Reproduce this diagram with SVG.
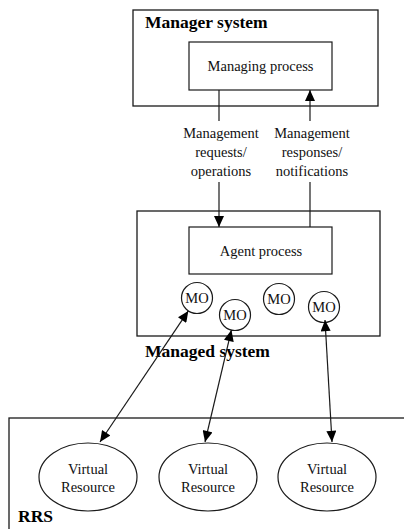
<svg xmlns="http://www.w3.org/2000/svg" width="404" height="529" viewBox="0 0 404 529">
  <style>
    .box { fill: none; stroke: #1a1a1a; stroke-width: 1.3; }
    .shape { fill: #fff; stroke: #1a1a1a; stroke-width: 1.2; }
    .t { font-family: "Liberation Serif", "Times New Roman", serif; font-size: 14.5px; fill: #111; }
    .c { text-anchor: middle; }
    .h { font-family: "Liberation Serif", "Times New Roman", serif; font-size: 17.5px; font-weight: bold; fill: #000; }
    .link { fill: none; stroke: #1a1a1a; stroke-width: 1.2; }
  </style>
  <defs>
    <marker id="arrow" markerUnits="userSpaceOnUse" markerWidth="12" markerHeight="10" refX="10" refY="4.5" orient="auto-start-reverse" viewBox="0 0 10 9">
      <path d="M0,0 L10,4.5 L0,9 Z" fill="#000"/>
    </marker>
  </defs>
  <rect width="404" height="529" fill="#fff"/>

  <!-- Manager system -->
  <g id="manager-system">
    <rect class="box" x="133" y="10" width="245" height="96"/>
    <text class="h" x="145" y="28">Manager system</text>
  </g>
  <g id="managing-process">
    <rect class="shape" x="189" y="42" width="143" height="48"/>
    <text class="t c" x="260.5" y="71">Managing process</text>
  </g>

  <!-- Managed system -->
  <g id="managed-system">
    <rect class="box" x="137" y="211" width="243" height="125"/>
    <text class="h" x="145" y="357">Managed system</text>
  </g>
  <g id="agent-process">
    <rect class="shape" x="189" y="227" width="143" height="47"/>
    <text class="t c" x="261" y="256">Agent process</text>
  </g>
  <g id="mo-1">
    <circle class="shape" cx="197" cy="298" r="15.5"/>
    <text class="t c" x="197" y="303">MO</text>
  </g>
  <g id="mo-2">
    <circle class="shape" cx="235" cy="315" r="15.5"/>
    <text class="t c" x="235" y="320">MO</text>
  </g>
  <g id="mo-3">
    <circle class="shape" cx="279" cy="299" r="15.5"/>
    <text class="t c" x="279" y="304">MO</text>
  </g>
  <g id="mo-4">
    <circle class="shape" cx="324" cy="307" r="15.5"/>
    <text class="t c" x="324" y="312">MO</text>
  </g>

  <!-- RRS -->
  <g id="rrs">
    <rect class="box" x="9" y="418" width="400" height="120"/>
    <text class="h" x="18" y="522">RRS</text>
  </g>
  <g id="virtual-resource-1">
    <ellipse class="shape" cx="88" cy="477" rx="49" ry="34"/>
    <text class="t c" x="88" y="474">Virtual</text>
    <text class="t c" x="88" y="492">Resource</text>
  </g>
  <g id="virtual-resource-2">
    <ellipse class="shape" cx="208" cy="477" rx="49" ry="34"/>
    <text class="t c" x="208" y="474">Virtual</text>
    <text class="t c" x="208" y="492">Resource</text>
  </g>
  <g id="virtual-resource-3">
    <ellipse class="shape" cx="327" cy="477" rx="49" ry="34"/>
    <text class="t c" x="327" y="474">Virtual</text>
    <text class="t c" x="327" y="492">Resource</text>
  </g>

  <!-- Connectors -->
  <g id="connectors">
    <!-- requests / operations: manager to agent -->
    <line class="link" x1="219" y1="90" x2="219" y2="121"/>
    <line class="link" x1="219" y1="182" x2="219" y2="227" marker-end="url(#arrow)"/>
    <text class="t c" x="221" y="138">Management</text>
    <text class="t c" x="221" y="157">requests/</text>
    <text class="t c" x="221" y="176">operations</text>

    <!-- responses / notifications: agent to manager -->
    <line class="link" x1="310" y1="121" x2="310" y2="90" marker-end="url(#arrow)"/>
    <line class="link" x1="310" y1="182" x2="310" y2="227"/>
    <text class="t c" x="312" y="138">Management</text>
    <text class="t c" x="312" y="157">responses/</text>
    <text class="t c" x="312" y="176">notifications</text>

    <!-- MO to virtual resource links -->
    <line class="link" x1="188.3" y1="310.9" x2="100" y2="442" marker-start="url(#arrow)" marker-end="url(#arrow)"/>
    <line class="link" x1="231.4" y1="330.1" x2="205" y2="442" marker-start="url(#arrow)" marker-end="url(#arrow)"/>
    <line class="link" x1="325" y1="320" x2="332" y2="442" marker-start="url(#arrow)" marker-end="url(#arrow)"/>
  </g>
</svg>
